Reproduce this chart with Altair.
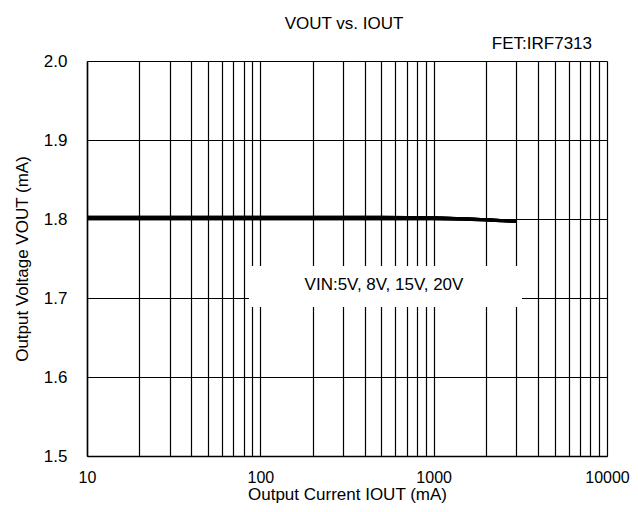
import altair as alt
import pandas as pd

# Data
iout = [10, 20, 50, 100, 200, 500, 1000, 1500, 2000, 3000]
vout_5v = [1.8000, 1.8000, 1.8000, 1.8000, 1.8000, 1.8000, 1.8000, 1.7995, 1.7985, 1.7965]
vout_8v = [1.8010, 1.8010, 1.8010, 1.8010, 1.8010, 1.8010, 1.8010, 1.8000, 1.7990, 1.7970]
vout_15v = [1.8020, 1.8020, 1.8020, 1.8020, 1.8020, 1.8020, 1.8015, 1.8005, 1.7995, 1.7975]
vout_20v = [1.8025, 1.8025, 1.8025, 1.8025, 1.8025, 1.8025, 1.8020, 1.8005, 1.7995, 1.7975]
series = {"5V": vout_5v, "8V": vout_8v, "15V": vout_15v, "20V": vout_20v}

x_grid = [10, 20, 30, 40, 50, 60, 70, 80, 90,
          100, 200, 300, 400, 500, 600, 700, 800, 900,
          1000, 2000, 3000, 4000, 5000, 6000, 7000, 8000, 9000, 10000]
y_ticks = [1.5, 1.6, 1.7, 1.8, 1.9, 2.0]

title_text = "VOUT vs. IOUT"
fet_text = "FET:IRF7313"
note_text = "VIN:5V, 8V, 15V, 20V"
note_box = {"x": 86, "x2": 3233, "y": 1.7405, "y2": 1.6886}
note_pos = {"x": 517, "y": 1.7165}

rows = []
for name, vals in series.items():
    for xv, yv in zip(iout, vals):
        rows.append({"IOUT": xv, "VOUT": yv, "VIN": name})
df = pd.DataFrame(rows)

FONT = "Liberation Sans"
FS = 17

xscale = alt.Scale(type="log", domain=[10, 10000], nice=False)
yscale = alt.Scale(domain=[1.5, 2.0], nice=False, zero=False)

xaxis = alt.Axis(
    values=x_grid, format="d", grid=True, gridColor="black", gridOpacity=1, gridWidth=1.2,
    labelExpr="(datum.value == 10 || datum.value == 100 || datum.value == 1000 || datum.value == 10000) ? datum.label : ''",
    ticks=False, labelPadding=13, labelFontSize=16, labelColor="black", labelFont=FONT,
    title="Output Current IOUT (mA)", titleFontSize=FS, titleFontWeight="normal",
    titleColor="black", titleFont=FONT, titlePadding=1,
    domainColor="black", domainWidth=1.5, labelFlush=False, labelOverlap=False,
)
yaxis = alt.Axis(
    values=y_ticks, format=".1f", grid=True, gridColor="black", gridOpacity=1, gridWidth=1.2,
    ticks=False, labelPadding=20, labelFontSize=FS, labelColor="black", labelFont=FONT,
    title="Output Voltage VOUT (mA)", titleFontSize=FS, titleFontWeight="normal",
    titleColor="black", titleFont=FONT, titlePadding=12,
    domainColor="black", domainWidth=1.5,
)

lines = alt.Chart(df).mark_line(color="black", strokeWidth=2.5).encode(
    x=alt.X("IOUT:Q", scale=xscale, axis=xaxis),
    y=alt.Y("VOUT:Q", scale=yscale, axis=yaxis),
    detail="VIN:N",
)

box_df = pd.DataFrame([note_box])
box = alt.Chart(box_df).mark_rect(color="white").encode(
    x=alt.X("x:Q", scale=xscale), x2="x2:Q",
    y=alt.Y("y:Q", scale=yscale), y2="y2:Q",
)

note_df = pd.DataFrame([{**note_pos, "t": note_text}])
note = alt.Chart(note_df).mark_text(fontSize=FS, font=FONT, color="black").encode(
    x=alt.X("x:Q", scale=xscale), y=alt.Y("y:Q", scale=yscale), text="t:N"
)

title = alt.Chart(pd.DataFrame([{"t": title_text}])).mark_text(
    fontSize=FS, font=FONT, color="black", baseline="middle"
).encode(x=alt.value(257), y=alt.value(-37), text="t:N")

fet = alt.Chart(pd.DataFrame([{"t": fet_text}])).mark_text(
    fontSize=FS, font=FONT, color="black", align="right", baseline="middle"
).encode(x=alt.value(505), y=alt.value(-17), text="t:N")

chart = alt.layer(lines, box, note, lines, title, fet).properties(
    width=520, height=395,
    autosize=alt.AutoSizeParams(type="none"),
    padding={"left": 79, "top": 53, "right": 23, "bottom": 48},
).configure_view(stroke="black", strokeWidth=1.5).configure(background="white")

chart.save("out.html", embed_options={"renderer": "svg", "actions": False})
